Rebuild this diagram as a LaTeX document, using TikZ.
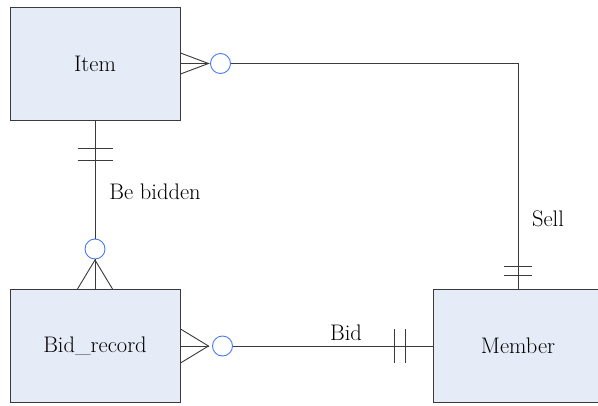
\documentclass[tikz,border=0pt]{standalone}
\usetikzlibrary{calc}
\definecolor{boxfill}{HTML}{E6ECF7}
\definecolor{edgegray}{HTML}{3A3A3A}
\definecolor{circblue}{HTML}{4A7AF0}
\begin{document}
\begin{tikzpicture}[x=1pt,y=-1pt,
  entity/.style={draw=edgegray, fill=boxfill, line width=1pt, minimum width=170pt, minimum height=113pt, inner sep=0pt, text=black, font=\rmfamily\fontsize{22.5}{27}\selectfont},
  link/.style={draw=edgegray, line width=0.9pt},
  opt/.style={draw=circblue, line width=0.9pt, circle, minimum size=20pt, inner sep=0pt},
  lbl/.style={font=\rmfamily\fontsize{22.5}{27}\selectfont, text=black, inner sep=0pt}]
\clip (0,0) rectangle (598,405);
\fill[white] (0,0) rectangle (598,405);
% entities
\node[entity] (item) at (95,63.5) {Item};
\node[entity] (bid) at (95,346) {Bid\_record};
\node[entity] (member) at (518,345.5) {Member};
% Item -- Member (Sell)
\coordinate (ifoot) at ($(item.east)+(28,0)$);
\draw[link] ($(item.east)+(0,-10.5)$) -- (ifoot) -- ($(item.east)+(0,10.5)$);
\draw[link] (item.east) -- (ifoot);
\node[opt] (ic) at ($(ifoot)+(12,0)$) {};
\draw[link] (ic.east) -| (member.north);
\draw[link] ($(member.north)+(-14,-13)$) -- ++(28,0);
\draw[link] ($(member.north)+(-14,-22)$) -- ++(28,0);
\node[lbl] (sell) at (548,219) {Sell};
% Item -- Bid_record (Be bidden)
\coordinate (bfoot) at ($(bid.north)+(0,-29)$);
\node[opt] (bc) at ($(bfoot)+(0,-11)$) {};
\draw[link] (item.south) -- (bc.north);
\draw[link] (bc.south) -- (bid.north);
\draw[link] ($(bid.north)+(-17.5,0)$) -- (bfoot) -- ($(bid.north)+(17.5,0)$);
\draw[link] ($(item.south)+(-17.5,28)$) -- ++(35,0);
\draw[link] ($(item.south)+(-17.5,40)$) -- ++(35,0);
\node[lbl] (bebidden) at (155,192) {Be bidden};
% Bid_record -- Member (Bid)
\coordinate (rfoot) at ($(bid.east)+(28,0)$);
\draw[link] ($(bid.east)+(0,-17)$) -- (rfoot) -- ($(bid.east)+(0,17)$);
\draw[link] (bid.east) -- (rfoot);
\node[opt] (rc) at ($(rfoot)+(14,0)$) {};
\draw[link] (rc.east) -- (rc.east -| member.west);
\draw[link] ($(rc.east -| member.west)+(-38,-17)$) -- ++(0,34);
\draw[link] ($(rc.east -| member.west)+(-27,-17)$) -- ++(0,34);
\node[lbl] (bidlbl) at (346,333) {Bid};
\end{tikzpicture}
\end{document}
